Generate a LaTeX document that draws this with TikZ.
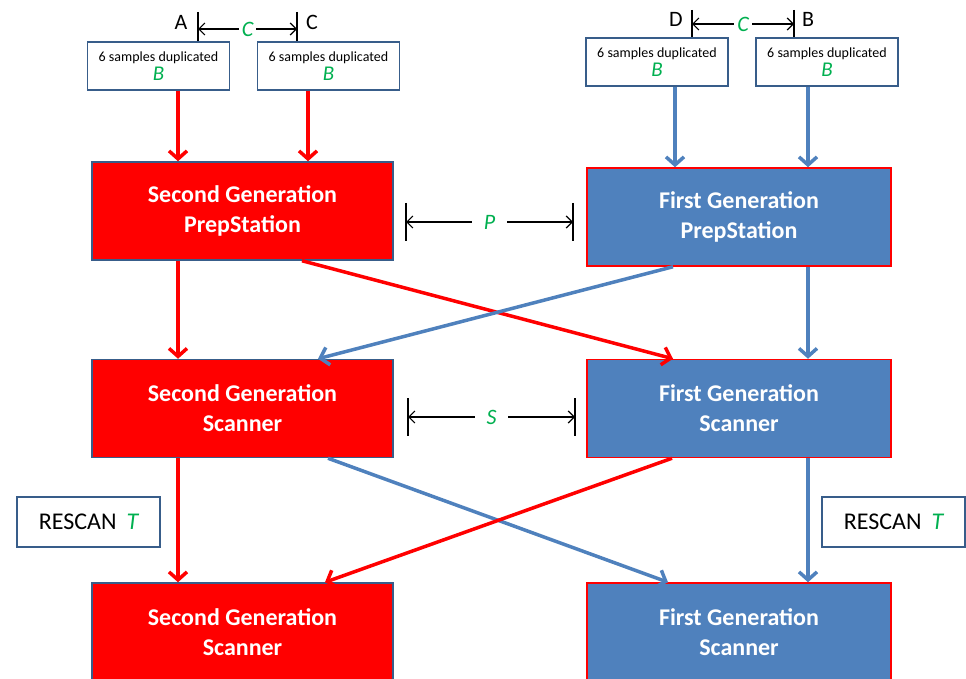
\documentclass[tikz,border=0pt]{standalone}
\usepackage{fontspec}
\setmainfont{Carlito}
\usetikzlibrary{arrows.meta}
\definecolor{flowred}{RGB}{255,0,0}
\definecolor{flowblue}{RGB}{79,129,189}
\definecolor{edgeblue}{RGB}{56,93,138}
\definecolor{labgreen}{RGB}{0,176,80}

\begin{document}
\begin{tikzpicture}[x=1pt,y=-1pt,
  bigbox/.style={draw, line width=1.5pt, minimum height=98pt, align=center,
    text=white, font=\fontsize{24}{30}\selectfont\bfseries},
  redbox/.style={bigbox, fill=flowred, draw=edgeblue, minimum width=301pt},
  bluebox/.style={bigbox, fill=flowblue, draw=flowred, minimum width=304pt},
  samplebox/.style={draw=edgeblue, line width=1.5pt, fill=white, minimum width=142pt,
    minimum height=48pt, align=center, font=\fontsize{14}{19}\selectfont},
  rescanbox/.style={draw=edgeblue, line width=1.5pt, fill=white, minimum width=143pt,
    minimum height=50pt, font=\fontsize{24}{26}\selectfont},
  redarrow/.style={draw=flowred, line width=3.5pt, -{Straight Barb[length=8pt,width=18pt]}},
  bluearrow/.style={draw=flowblue, line width=3.5pt, -{Straight Barb[length=8pt,width=18pt]}},
  dimline/.style={draw, line width=1.2pt, {Straight Barb[length=6pt,width=12pt]}-{Straight Barb[length=6pt,width=12pt]}},
  dimtick/.style={draw, line width=1.2pt},
  toplab/.style={font=\fontsize{22}{24}\selectfont},
  glab/.style={fill=white, inner sep=3pt, text=labgreen, font=\fontsize{22}{24}\selectfont\itshape}]
  \useasboundingbox (0,0) rectangle (966,679);
  \clip (0,0) rectangle (966,679);

  % sample boxes
  \node[samplebox] (s1) at (158.5,66) {6 samples duplicated\\{\color{labgreen}\fontsize{21}{21}\selectfont\itshape B}};
  \node[samplebox] (s2) at (328.5,66) {6 samples duplicated\\{\color{labgreen}\fontsize{21}{21}\selectfont\itshape B}};
  \node[samplebox] (s3) at (657,62) {6 samples duplicated\\{\color{labgreen}\fontsize{21}{21}\selectfont\itshape B}};
  \node[samplebox] (s4) at (827,62) {6 samples duplicated\\{\color{labgreen}\fontsize{21}{21}\selectfont\itshape B}};

  % stations
  \node[redbox] (prep2) at (242.5,211) {Second Generation\\PrepStation};
  \node[bluebox] (prep1) at (739,217) {First Generation\\PrepStation};
  \node[redbox] (scan2) at (242.5,408.5) {Second Generation\\Scanner};
  \node[bluebox] (scan1) at (739,408.5) {First Generation\\Scanner};
  \node[redbox] (rescan2) at (242.5,632) {Second Generation\\Scanner};
  \node[bluebox] (rescan1) at (739,632) {First Generation\\Scanner};

  \node[rescanbox] (rl) at (88.5,522) {RESCAN\hspace{10pt}{\color{labgreen}\itshape T}};
  \node[rescanbox] (rr) at (893.5,522) {RESCAN\hspace{10pt}{\color{labgreen}\itshape T}};

  % top spacing marks
  \coordinate (ta) at (198,12);
  \coordinate (tc) at (297,12);
  \coordinate (td) at (692,10);
  \coordinate (tb) at (794,10);
  \path[dimtick] (ta) -- (s1.north -| ta);
  \path[dimtick] (tc) -- (s2.north -| tc);
  \path[dimtick] (td) -- (s3.north -| td);
  \path[dimtick] (tb) -- (s4.north -| tb);
  \path[dimline] ([yshift=-17]ta) -- node[glab] {C} ([yshift=-17]tc);
  \path[dimline] ([yshift=-14]td) -- node[glab] {C} ([yshift=-14]tb);
  \node[toplab] (la) at (181,22) {A};
  \node[toplab] (lc) at (312,22) {C};
  \node[toplab] (ld) at (676,19) {D};
  \node[toplab] (lb) at (808,19) {B};

  % P and S marks
  \coordinate (pl) at (406,222);
  \coordinate (pr) at (573,222);
  \coordinate (sl) at (408,417);
  \coordinate (sr) at (575,417);
  \path[dimtick] ([yshift=19]pl) -- ([yshift=-19]pl);
  \path[dimtick] ([yshift=19]pr) -- ([yshift=-19]pr);
  \path[dimtick] ([yshift=19]sl) -- ([yshift=-19]sl);
  \path[dimtick] ([yshift=19]sr) -- ([yshift=-19]sr);
  \path[dimline] (pl) -- node[glab, inner xsep=12pt] {P} (pr);
  \path[dimline] (sl) -- node[glab, inner xsep=12pt] {S} (sr);

  % sample feeds
  \path[redarrow] (s1.south -| 178,0) -- (prep2.north -| 178,0);
  \path[redarrow] (s2.south -| 308,0) -- (prep2.north -| 308,0);
  \path[bluearrow] (s3.south -| 675,0) -- (prep1.north -| 675,0);
  \path[bluearrow] (s4.south -| 808,0) -- (prep1.north -| 808,0);

  % prep to scan
  \path[redarrow] (prep2.south -| 178,0) -- (scan2.north -| 178,0);
  \path[bluearrow] (prep1.south -| 808,0) -- (scan1.north -| 808,0);
  \path[redarrow] (prep2.south -| 302,0) -- (scan1.north -| 673,0);
  \path[bluearrow] (prep1.south -| 673,0) -- (scan2.north -| 318,0);

  % scan to rescan
  \path[redarrow] (scan2.south -| 178,0) -- (rescan2.north -| 178,0);
  \path[bluearrow] (scan1.south -| 808,0) -- (rescan1.north -| 808,0);
  \path[bluearrow] (scan2.south -| 328,0) -- (rescan1.north -| 668,0);
  \path[redarrow] (scan1.south -| 672,0) -- (rescan2.north -| 325,0);
\end{tikzpicture}
\end{document}
